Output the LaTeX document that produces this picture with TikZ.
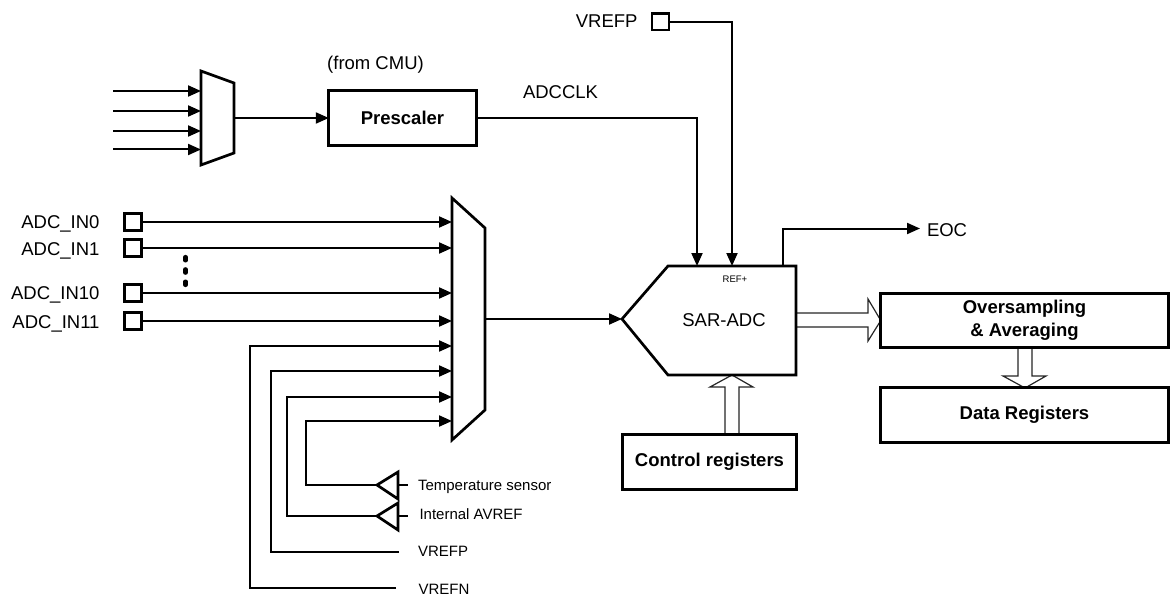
\documentclass[tikz,border=0pt]{standalone}
\usepackage{fontspec}
\setmainfont{Liberation Sans}
\usetikzlibrary{arrows.meta,calc,backgrounds}
\tikzset{
  every node/.style={inner sep=0pt,outer sep=0pt},
  wire/.style={line width=2pt,line join=miter},
  sig/.style={wire,-{Triangle[length=13pt,width=11pt]}},
  outline/.style={line width=2.7pt,line join=miter,draw=black,fill=white},
  blockbox/.style={rectangle,draw=black,fill=white,line width=3pt,anchor=center,font=\fontsize{18.5}{23}\selectfont\bfseries,align=center},
  pad/.style={line width=2.7pt,draw=black,fill=white,rectangle,minimum width=17pt,minimum height=16.5pt},
  lab/.style={font=\fontsize{18.5}{21}\selectfont},
  sm/.style={font=\fontsize{15}{17}\selectfont,anchor=base west},
  fat/.style={line width=1.2pt,draw=black!85,fill=white,line join=miter},
}
\begin{document}
\begin{tikzpicture}[x=1pt,y=-1pt]
\useasboundingbox (0,0) rectangle (1174,596);
% --- clock mux
\draw[outline] (201,71) -- (234,83) -- (234,153) -- (201,165) -- cycle;
\foreach \n/\y in {a/91,b/111,c/131,d/149.5}{
  \coordinate (ci\n) at (113,\y);
  \coordinate (cm\n) at (201,\y);
  \draw[sig] (ci\n) -- (cm\n);
}
\coordinate (cmo) at (234,118);
\node[blockbox,minimum width=147.4pt,minimum height=54.4pt] (pre) at (402.5,118) {Prescaler};
\draw[sig] (cmo) -- (pre.west);
\node[lab,anchor=base] (fromcmu) at (375.5,70) {(from CMU)};
\node[lab,anchor=base west] (adcclk) at (523,98.5) {ADCCLK};
% --- ADC
\draw[outline] (622,319) coordinate (adctip) -- (668,266) -- (796,266) -- (796,375) -- (668,375) -- cycle;
\node[lab,anchor=base] (sar) at (724,326) {SAR-ADC};
\node[font=\fontsize{9.5}{11}\selectfont,anchor=base] (ref) at (735,282) {REF+};
\coordinate (clkin) at (697,266);
\coordinate (refin) at (732,266);
\draw[sig] (pre.east) -| (clkin);
\node[pad] (vrefpad) at (660.5,21.7) {};
\node[lab,anchor=base east] (vreflab) at (637.5,27.5) {VREFP};
\draw[sig] (vrefpad.east) -| (refin);
\coordinate (eocout) at (783,266);
\coordinate (eocend) at (920,228.5);
\draw[sig] (eocout) |- (eocend);
\node[lab,anchor=base west] (eoc) at (927,236) {EOC};
% --- big mux
\draw[outline] (452,198) -- (485,228) -- (485,410) -- (452,440) -- cycle;
\foreach \n/\t/\y/\b in {p/ADC\_IN0/222/228,q/ADC\_IN1/248/255,r/ADC\_IN10/293/299,s/ADC\_IN11/321/328}{
  \node[pad] (pad\n) at (133,\y) {};
  \node[lab,anchor=base east] (lab\n) at (99.5,\b) {\t};
  \coordinate (mi\n) at (452,\y);
  \draw[sig] (pad\n.east) -- (mi\n);
}
\coordinate (dota) at (185.5,257);
\coordinate (dotb) at (185.5,285);
\draw[line width=4.2pt,line cap=round,dash pattern=on 3.4pt off 8.9pt] (dota) -- (dotb);
\coordinate (muxo) at (485,319);
\draw[sig] (muxo) -- (adctip);
% --- analog inputs
\node[sm] (ts) at (418,490.5) {Temperature sensor};
\node[sm] (av) at (419.5,519.5) {Internal AVREF};
\node[sm] (vp) at (418,556.5) {VREFP};
\node[sm] (vn) at (418.5,594.5) {VREFN};
\coordinate (bufa) at (377,485);
\coordinate (bufb) at (377,516);
\draw[outline,fill=none] (bufa) -- (398,472) -- (398,499) -- cycle;
\draw[outline,fill=none] (bufb) -- (398,503) -- (398,530) -- cycle;
\coordinate (stuba) at (398,485);
\coordinate (stubb) at (398,516);
\draw[wire] (stuba) -- (408,485);
\draw[wire] (stubb) -- (408,516);
\coordinate (ena) at (452,421);
\coordinate (enb) at (452,397);
\coordinate (enc) at (452,371);
\coordinate (end) at (452,346);
\coordinate (ste) at (399,552);
\coordinate (stf) at (396,588);
\draw[sig] (bufa) -- (305.5,485) |- (ena);
\draw[sig] (bufb) -- (287,516) |- (enb);
\draw[sig] (ste) -- (271,552) |- (enc);
\draw[sig] (stf) -- (250,588) |- (end);
% --- blocks
\node[blockbox,minimum width=287.4pt,minimum height=53.4pt] (ovs) at (1024.5,320.5) {Oversampling\\\& Averaging};
\node[blockbox,minimum width=287.4pt,minimum height=54.4pt] (dat) at (1024.5,415) {Data Registers};
\node[blockbox,minimum width=173.4pt,minimum height=54.4pt] (ctl) at (709.5,462) {Control registers};
% --- block arrows
\begin{scope}[on background layer]
\draw[fat] (796,313) -- (868,313) -- (868,299) -- (ovs.west) -- (868,341) -- (868,327) -- (796,327);
\draw[fat] (1018,347) -- (1018,376) -- (1003,376) -- (1025,388) -- (1046,376) -- (1032,376) -- (1032,347);
\draw[fat] (725,435) -- (725,387) -- (710,387) -- (732,375) -- (753,387) -- (739,387) -- (739,435);
\end{scope}
\end{tikzpicture}
\end{document}
